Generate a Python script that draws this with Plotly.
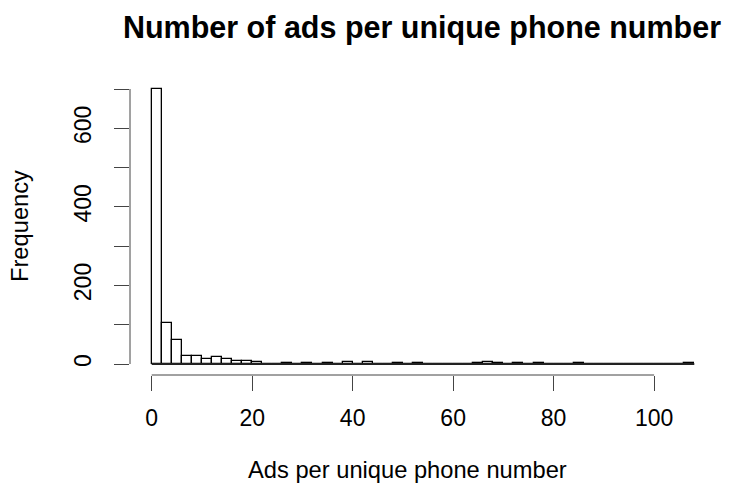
import numpy as np
import plotly.graph_objects as go

# Histogram data (bin width 2, from 0 to 108)
bin_edges = list(range(0, 110, 2))
counts = [701, 105, 61, 21, 20, 13, 17, 13, 8, 8,
          4, 1, 1, 3, 1, 2, 1, 3, 1, 4,
          1, 4, 1, 0, 2, 1, 3, 0, 0, 1,
          0, 1, 3, 5, 2, 0, 3, 0, 3, 0,
          1, 0, 3, 0, 1, 0, 1, 0, 0, 1,
          0, 0, 1, 3]
x_ticks = [0, 20, 40, 60, 80, 100]
y_ticks = [0, 100, 200, 300, 400, 500, 600, 700]
y_tick_text = ["0", "", "200", "", "400", "", "600", ""]

edges = np.array(bin_edges, dtype=float)
centers = (edges[:-1] + edges[1:]) / 2
widths = np.diff(edges)

off = 8  # page body margin
W, H = 733 - off, 492 - off
ml, mr, mt, mb = 130 - off, 17, 78 - off, 117
pw, ph = W - ml - mr, H - mt - mb

def px(xp):  # page x -> paper
    return (xp - off - ml) / pw

def py(yp):  # page y -> paper
    return ((H - mb) - (yp - off)) / ph

xmin, xmax = edges[0], edges[-1]
xpad = (xmax - xmin) * 0.04
ymax = max(y_ticks)
ypad = ymax * 0.04

font = "Liberation Sans, Arial, Helvetica, sans-serif"
fs = 23

fig = go.Figure()
fig.add_trace(go.Bar(
    x=centers, y=counts, width=widths,
    marker=dict(color="white", line=dict(color="black", width=1.3)),
    showlegend=False, hoverinfo="skip"))
# baseline of zero-height bins (as drawn by R's hist)
fig.add_trace(go.Scatter(
    x=[xmin, xmax], y=[0, 0], mode="lines",
    line=dict(color="#222222", width=2), showlegend=False, hoverinfo="skip"))

fig.update_layout(
    width=W, height=H,
    margin=dict(l=ml, r=mr, t=mt, b=mb, autoexpand=False),
    paper_bgcolor="white", plot_bgcolor="white",
    bargap=0,
    font=dict(family=font, color="black"),
    title=dict(text="<b>Number of ads per unique phone number</b>",
               x=((118 + 726) / 2 - off) / W, xanchor="center", xref="container",
               y=1 - (27 - off) / H, yanchor="middle", yref="container",
               font=dict(size=30.5, family=font, color="black")),
    xaxis=dict(range=[xmin - xpad, xmax + xpad], tickvals=x_ticks,
               ticks="outside", ticklen=15, tickwidth=1, tickcolor="#444",
               showgrid=False, zeroline=False, showline=False, automargin=False,
               tickfont=dict(size=fs, family=font, color="black"),
               ticklabelstandoff=7),
    yaxis=dict(range=[-ypad, ymax + ypad], tickvals=y_ticks, ticktext=y_tick_text,
               ticks="outside", ticklen=15, tickwidth=1, tickcolor="#444",
               tickangle=-90, automargin=False,
               showgrid=False, zeroline=False, showline=False,
               tickfont=dict(size=fs, family=font, color="black"),
               ticklabelstandoff=14),
    shapes=[
        dict(type="line", xref="x", yref="paper", x0=x_ticks[0], x1=x_ticks[-1],
             y0=0, y1=0, line=dict(color="#444", width=1)),
        dict(type="line", xref="paper", yref="y", x0=0, x1=0,
             y0=y_ticks[0], y1=y_ticks[-1], line=dict(color="#444", width=1)),
    ],
    annotations=[
        dict(text="Ads per unique phone number", xref="paper", yref="paper",
             x=px(407.5), y=py(470),
             xanchor="center", yanchor="middle", showarrow=False,
             font=dict(size=23.7, family=font, color="black")),
        dict(text="Frequency", xref="paper", yref="paper",
             x=px(20), y=py(226), textangle=-90,
             xanchor="center", yanchor="middle", showarrow=False,
             font=dict(size=23.7, family=font, color="black")),
    ],
)

fig.write_html("out.html")
